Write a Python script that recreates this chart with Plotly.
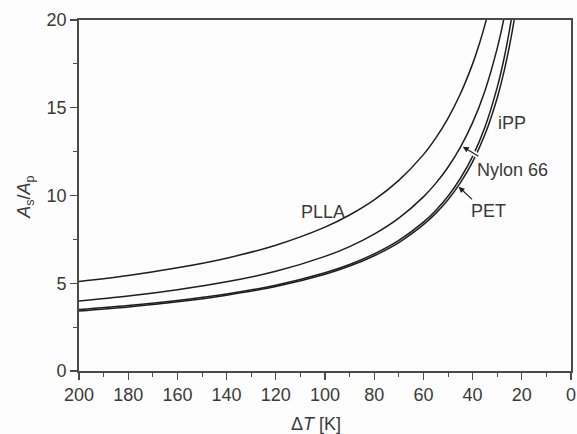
import plotly.graph_objects as go

# Data (ΔT in K, ratio A_s/A_p)
plla_dt = [200, 180, 160, 140, 120, 100, 90, 80, 70, 60, 55, 50, 45, 40, 37, 34.6, 32]
plla_y = [5.10, 5.44, 5.88, 6.43, 7.17, 8.20, 8.89, 9.75, 10.86, 12.33, 13.27, 14.40, 15.78, 17.50, 18.76, 19.92, 21.38]

nylon_dt = [200, 180, 160, 140, 120, 100, 90, 80, 70, 60, 55, 50, 45, 40, 35, 30, 27.4, 25]
nylon_y = [3.99, 4.27, 4.63, 5.08, 5.68, 6.53, 7.09, 7.80, 8.71, 9.92, 10.69, 11.61, 12.74, 14.15, 15.96, 18.38, 19.99, 21.77]

pet_dt = [200, 180, 160, 140, 120, 100, 90, 80, 70, 60, 55, 50, 45, 40, 35, 30, 27, 24.3, 22]
pet_y = [3.50, 3.73, 4.02, 4.39, 4.89, 5.60, 6.07, 6.67, 7.44, 8.48, 9.15, 9.96, 10.97, 12.23, 13.89, 16.16, 17.95, 20.0, 22.19]

ipp_dt = [200, 180, 160, 140, 120, 100, 90, 80, 70, 60, 55, 50, 45, 40, 35, 30, 27, 25, 23.1, 21]
ipp_y = [3.42, 3.65, 3.94, 4.32, 4.81, 5.51, 5.98, 6.57, 7.32, 8.34, 8.98, 9.76, 10.72, 11.92, 13.47, 15.56, 17.20, 18.52, 20.0, 21.96]

x_ticks = [200, 180, 160, 140, 120, 100, 80, 60, 40, 20, 0]
y_ticks = [0, 5, 10, 15, 20]

line_color = "#1e1e1e"
txt = "#3a3a3a"
bg = "#fdfdfd"
font_family = "Arial, Liberation Sans, sans-serif"

fig = go.Figure()
for name, xs, ys in [("PLLA", plla_dt, plla_y), ("Nylon 66", nylon_dt, nylon_y),
                     ("PET", pet_dt, pet_y), ("iPP", ipp_dt, ipp_y)]:
    fig.add_trace(go.Scatter(x=xs, y=ys, mode="lines", name=name,
                             line=dict(color=line_color, width=1.5, shape="spline", smoothing=1.0),
                             showlegend=False, hoverinfo="skip"))

fig.update_layout(
    width=577, height=434,
    margin=dict(l=79, r=6, t=20, b=63),
    paper_bgcolor=bg, plot_bgcolor=bg,
    font=dict(family=font_family, size=18, color=txt),
)
axis_common = dict(showgrid=False, zeroline=False, showline=True, linecolor="#4a4a4a", linewidth=1.8,
                   mirror=True, ticks="outside", ticklen=7, tickwidth=1.3, tickcolor="#4a4a4a",
                   automargin=False,
                   tickfont=dict(family=font_family, size=18, color=txt))
fig.update_xaxes(range=[200, 0], tickvals=x_ticks, ticktext=[str(v) for v in x_ticks],
                 minor=dict(dtick=10, ticks="outside", ticklen=4, tickcolor="#4a4a4a", tickwidth=1),
                 **axis_common)
fig.update_yaxes(range=[0, 20], tickvals=y_ticks, ticktext=[str(v) for v in y_ticks],
                 minor=dict(dtick=2.5, ticks="outside", ticklen=4, tickcolor="#4a4a4a", tickwidth=1),
                 **axis_common)

# axis titles
fig.add_annotation(xref="paper", yref="paper", x=0.482, y=-0.151, showarrow=False,
                   text="Δ<i>T</i> [K]", font=dict(size=18, color=txt), xanchor="center", yanchor="middle")
fig.add_annotation(xref="paper", yref="paper", x=-0.108, y=0.496, showarrow=False, textangle=-90,
                   text="<i>A</i><sub>s</sub>/<i>A</i><sub>p</sub>", font=dict(size=18, color=txt),
                   xanchor="center", yanchor="middle")

# halo behind the arrows where they cross the close pair of curves
fig.add_shape(type="line", xref="x", yref="y", x0=41.0, y0=12.52, x1=38.0, y1=12.27,
              line=dict(color=bg, width=5), layer="above")
fig.add_shape(type="line", xref="x", yref="y", x0=44.6, y0=10.36, x1=42.6, y1=10.1,
              line=dict(color=bg, width=4), layer="above")

# curve labels
fig.add_annotation(x=100.8, y=9.06, text="PLLA", showarrow=False, font=dict(size=18, color=txt))
fig.add_annotation(x=23.8, y=14.13, text="iPP", showarrow=False, font=dict(size=18, color=txt))
fig.add_annotation(x=23.8, y=11.45, text="Nylon 66", showarrow=False, font=dict(size=18, color=txt))
fig.add_annotation(x=33.5, y=9.12, text="PET", showarrow=False, font=dict(size=18, color=txt))

# arrows
fig.add_annotation(x=44.0, y=12.78, ax=37.0, ay=12.19, axref="x", ayref="y", text="",
                   showarrow=True, arrowhead=2, arrowsize=1, arrowwidth=1.2, arrowcolor="#222")
fig.add_annotation(x=45.7, y=10.5, ax=39.6, ay=9.7, axref="x", ayref="y", text="",
                   showarrow=True, arrowhead=2, arrowsize=1, arrowwidth=1.2, arrowcolor="#222")

# remove the default page margin so the figure sits at the window's top-left corner
fig.write_html("out.html",
               config={"displayModeBar": False, "staticPlot": True},
               post_script="document.body.style.margin='0';"
                           "document.body.style.overflow='hidden';"
                           "document.documentElement.style.overflow='hidden';")
